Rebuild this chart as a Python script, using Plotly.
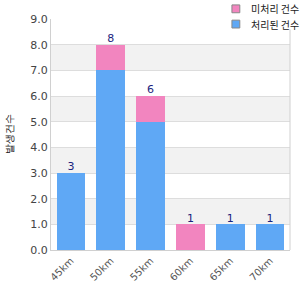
import plotly.graph_objects as go

categories = ["45km", "50km", "55km", "60km", "65km", "70km"]
pink_vals = [0, 1, 1, 1, 0, 0]
blue_vals = [3, 7, 5, 0, 1, 1]
totals = [b + p for b, p in zip(blue_vals, pink_vals)]
pink_name = "미처리 건수"
blue_name = "처리된 건수"
y_title = "발생건수"
PINK = "#f285bf"
BLUE = "#5fa8f5"

fig = go.Figure()
fig.add_trace(go.Bar(x=categories, y=blue_vals, name=blue_name,
                     marker=dict(color=BLUE, line=dict(width=0))))
fig.add_trace(go.Bar(x=categories, y=pink_vals, name=pink_name,
                     marker=dict(color=PINK, line=dict(width=0))))
fig.add_trace(go.Scatter(x=categories, y=totals, mode="text",
                         text=[str(t) for t in totals], textposition="top center",
                         textfont=dict(color="#1a237e", size=11, family="DejaVu Sans"),
                         showlegend=False, hoverinfo="skip", cliponaxis=False))

shapes = []
for k in range(1, 9, 2):
    shapes.append(dict(type="rect", xref="paper", yref="y", x0=0, x1=1, y0=k, y1=k + 1,
                       fillcolor="#f2f2f2", line=dict(width=0), layer="below"))
# right border of plot
shapes.append(dict(type="line", xref="paper", yref="paper", x0=1, x1=1, y0=0, y1=1,
                   line=dict(color="#d0d0d0", width=1)))
# legend box (white background)
shapes.append(dict(type="rect", xref="paper", yref="paper", x0=0.73, x1=1.05, y0=0.955, y1=1.085,
                   fillcolor="white", line=dict(width=0), layer="above"))
annotations = []
for name, color, yc in [(pink_name, PINK, 1.044), (blue_name, BLUE, 0.978)]:
    shapes.append(dict(type="rect", xref="paper", yref="paper", x0=0.757, x1=0.79,
                       y0=yc - 0.017, y1=yc + 0.017, fillcolor=color,
                       line=dict(color="#888", width=1), layer="above"))
    annotations.append(dict(xref="paper", yref="paper", x=0.83, y=yc, xanchor="left",
                            yanchor="middle", text=name, showarrow=False,
                            font=dict(size=10, color="#222", family="Noto Sans CJK KR")))

fig.update_layout(
    width=300, height=300,
    margin=dict(l=51, r=10, t=19, b=50),
    barmode="stack", bargap=0.28,
    plot_bgcolor="white", paper_bgcolor="white",
    shapes=shapes, annotations=annotations, showlegend=False,
    font=dict(family="DejaVu Sans", size=10, color="#444"),
    xaxis=dict(tickangle=-45, showline=True, linecolor="#d0d0d0", mirror=False,
               tickfont=dict(size=10, color="#555"), ticks=""),
    yaxis=dict(range=[0, 9], dtick=1, tickformat=".1f", showgrid=True,
               gridcolor="#dddddd", showline=True, linecolor="#d0d0d0",
               zeroline=False, tickfont=dict(size=11, color="#444"),
               title=dict(text=y_title, font=dict(size=10, color="#222"), standoff=14)),
)
fig.write_html("out.html")
